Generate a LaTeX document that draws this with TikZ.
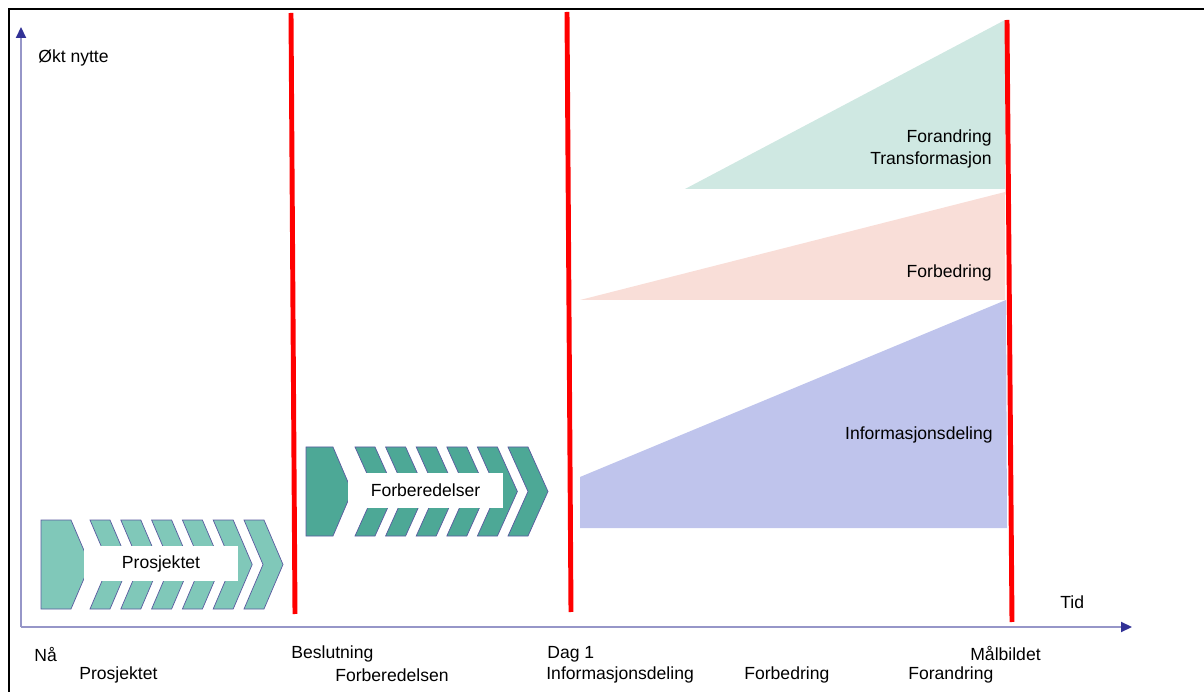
\documentclass[tikz,border=0pt]{standalone}
\usepackage{fontspec}
\setmainfont{Liberation Sans}
\usepackage{xcolor}
\usetikzlibrary{arrows.meta,positioning}
\definecolor{axisline}{RGB}{150,150,200}
\definecolor{axistip}{RGB}{50,50,150}
\definecolor{tealA}{RGB}{128,200,185}
\definecolor{tealB}{RGB}{77,168,150}
\definecolor{edgeblue}{RGB}{90,90,160}
\definecolor{greenarea}{RGB}{207,232,226}
\definecolor{pinkarea}{RGB}{249,222,216}
\definecolor{bluearea}{RGB}{191,196,236}
\tikzset{
    every node/.style={font=\fontsize{10}{12.5}\selectfont, inner sep=0pt},
    axis/.style={draw=axisline, line width=1.2pt, -{Triangle[length=0.22cm,width=0.2cm,color=axistip]}},
    milestone/.style={draw=red, line width=2.8pt},
    chev/.style={draw=edgeblue, line width=0.4pt},
    whitebox/.style={fill=white, minimum width=3.1cm, minimum height=0.7cm},
    lbl/.style={anchor=west},
    arealbl/.style={anchor=east, align=right}
}

\begin{document}
\begin{tikzpicture}[x=0.02cm, y=-0.02cm]
    \useasboundingbox (0,0) rectangle (1204,692);
    % Frame
    \draw[line width=1.7pt] (9,692) -- (9,9) -- (1204,9);

    % Benefit areas
    \fill[greenarea] (685,189) -- (1005,20) -- (1005,189) -- cycle;
    \fill[pinkarea] (580,300) -- (1005,192) -- (1005,300) -- cycle;
    \fill[bluearea] (580,477) -- (1006,300) -- (1007,528) -- (580,528) -- cycle;
    \node[arealbl] (forandring) at (992,149) {Forandring\\Transformasjon};
    \node[arealbl] (forbedring) at (992,273) {Forbedring};
    \node[arealbl] (infodeling) at (993,435) {Informasjonsdeling};

    % Process arrows
    \filldraw[chev, fill=tealA] (41,520) -- (71,520) -- (90,564.5) -- (71,609) -- (41,609) -- cycle;
    \foreach \i in {0,...,5}
        \filldraw[chev, fill=tealA] ({90+\i*30.8},520) -- ++(20,0) -- ++(19,44.5) -- ++(-19,44.5)
            -- ++(-20,0) -- ++(19,-44.5) -- cycle;
    \node[whitebox] (prosjektet) at (161,563.5) {Prosjektet};

    \filldraw[chev, fill=tealB] (306,447) -- (333,447) -- (352,491.5) -- (333,536) -- (306,536) -- cycle;
    \foreach \i in {0,...,5}
        \filldraw[chev, fill=tealB] ({355+\i*30.6},447) -- ++(20,0) -- ++(20,44.5) -- ++(-20,44.5)
            -- ++(-20,0) -- ++(20,-44.5) -- cycle;
    \node[whitebox] (forberedelser) at (425.5,490.5) {Forberedelser};

    % Milestones
    \coordinate (m1top) at (291,13);  \coordinate (m1bot) at (295,614);
    \coordinate (m2top) at (567,12);  \coordinate (m2bot) at (571,612);
    \coordinate (m3top) at (1007,20); \coordinate (m3bot) at (1012,622);
    \draw[milestone] (m1top) -- (m1bot);
    \draw[milestone] (m2top) -- (m2bot);
    \draw[milestone] (m3top) -- (m3bot);

    % Axes
    \coordinate (origin) at (21,627);
    \coordinate (ytip) at (21,27);
    \coordinate (xtip) at (1132,627);
    \draw[axis] (origin) -- (ytip);
    \draw[axis] (origin) -- (xtip);
    \node[lbl] (nytte) at (38,58) {Økt nytte};
    \node[lbl] (tid) at (1060,602) {Tid};

    % Time labels
    \node[lbl] (naa) at (34,655) {Nå};
    \node[lbl] (beslutning) at (291,654) {Beslutning};
    \node[lbl] (dag1) at (547,654) {Dag 1};
    \node[lbl] (maalbildet) at (970,654) {Målbildet};
    \node[lbl] (tprosjekt) at (79,675) {Prosjektet};
    \node[lbl] (tforbered) at (335,675) {Forberedelsen};
    \node[lbl] (tinfo) at (546,675) {Informasjonsdeling};
    \node[lbl] (tforbedr) at (744,675) {Forbedring};
    \node[lbl] (tforandr) at (908,675) {Forandring};
\end{tikzpicture}
\end{document}
